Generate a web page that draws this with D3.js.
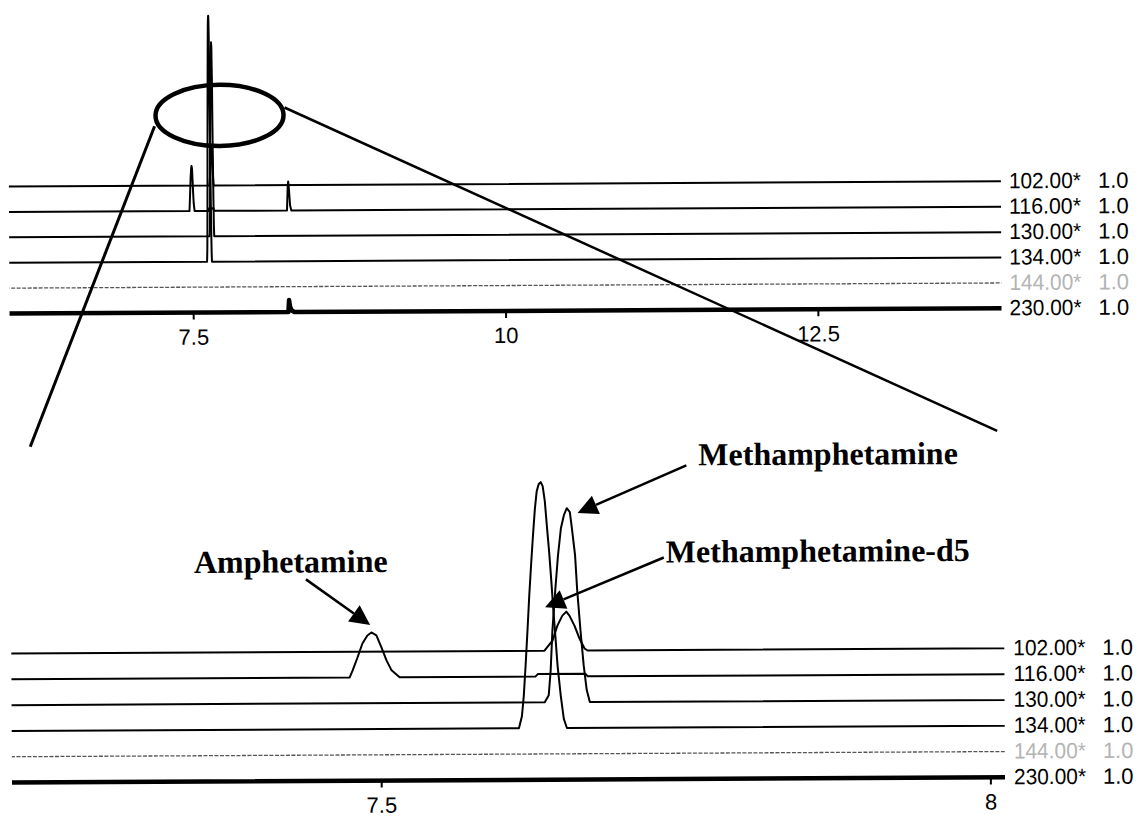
<!DOCTYPE html>
<html>
<head>
<meta charset="utf-8">
<script src="https://cdn.jsdelivr.net/npm/d3@7"></script>
<style>
  body { margin: 0; background: #fff; }
  svg { display: block; }
</style>
</head>
<body>
<svg id="chart" width="1139" height="817"></svg>
<script>
// ion chromatograms: [retention time (min), abundance]
var ions = ['102.00', '116.00', '130.00', '134.00', '144.00', '230.00'];
var factor = '1.0';
var topTicks = [7.5, 10, 12.5];
var bottomTicks = [7.5, 8];
var topTimes = [6.03, 13.97];
var bottomTimes = [7.197, 8.012];

var trace102 = [[6, 0], [7.6346, 0], [7.6412, 4], [7.6453, 10], [7.6494, 14], [7.6527, 15.6],
    [7.6552, 14], [7.6593, 10], [7.6634, 4.8], [7.6675, 0.8], [7.67, 0], [14, 0]];
var trace116 = [[6, 0], [7.4745, 0], [7.477, 2.8], [7.4811, 8], [7.4852, 13.6], [7.4893, 16.8],
    [7.4926, 18], [7.4967, 16.8], [7.5008, 12], [7.5049, 6.8], [7.509, 2.8], [7.5156, 0],
    [7.627, 0], [7.629, 1], [7.668, 1], [7.67, 0],
    [8.255, 0], [8.262, 10], [8.266, 11.6], [8.272, 8], [8.28, 2], [8.29, 0], [14, 0]];
var trace130 = [[6, 0], [7.6346, 0], [7.6379, 2.8], [7.6396, 12.8], [7.6412, 28.8], [7.6437, 44.8],
    [7.6461, 58.8], [7.6486, 69.6], [7.6511, 74.8], [7.6535, 77.6], [7.656, 76], [7.6576, 69.6],
    [7.6601, 58.8], [7.6617, 44.8], [7.6642, 28.8], [7.6667, 14.8], [7.6691, 4.8], [7.6716, 0], [14, 0]];
var trace134 = [[6, 0], [7.6133, 0], [7.6158, 4.8], [7.6174, 12.8], [7.619, 24.8], [7.6207, 38.8],
    [7.6223, 52.8], [7.624, 65.6], [7.6256, 76.8], [7.6273, 87.6], [7.6289, 94.8], [7.6305, 97.6],
    [7.6322, 98.4], [7.6338, 96.8], [7.6355, 90.8], [7.6371, 80.8], [7.6388, 70.8], [7.6404, 59.6],
    [7.642, 47.6], [7.6437, 36], [7.6453, 24.8], [7.6478, 12.8], [7.6502, 3.6], [7.6527, 0], [14, 0]];
var trace144 = [[6, 0], [14, 0]];
var trace230 = [[6, 0], [8.262, 0], [8.268, 4.8], [8.276, 2], [8.29, 0.6], [8.31, 0], [14, 0]];

var traces = [trace102, trace116, trace130, trace134, trace144, trace230];

var svg = d3.select('#chart');
// the scanned original is tilted a little
var root = svg.append('g').attr('transform', 'rotate(-0.3 570 400)');

var abundance = d3.scaleLinear().domain([0, 100]).range([0, 250]);

function drawPanel(name, times, xRange, yRange, ticks, labelX) {
    var x = d3.scaleLinear().domain(times).range(xRange);
    var base = d3.scalePoint().domain(ions).range(yRange);
    var g = root.append('g');

    g.append('clipPath').attr('id', 'clip-' + name)
        .append('rect')
        .attr('x', xRange[0]).attr('y', 0)
        .attr('width', xRange[1] - xRange[0]).attr('height', 817);

    var plot = g.append('g').attr('clip-path', 'url(#clip-' + name + ')');

    ions.forEach(function (ion, i) {
        var line = d3.line()
            .x(function (d) { return x(d[0]); })
            .y(function (d) { return base(ion) - abundance(d[1]); });
        var path = plot.append('path')
            .datum(traces[i])
            .attr('fill', 'none')
            .attr('stroke', '#000')
            .attr('stroke-linejoin', 'round')
            .attr('stroke-width', 2)
            .attr('d', line);
        if (ion === '144.00') {
            path.attr('stroke', '#555').attr('stroke-width', 1.3).attr('stroke-dasharray', '4,1.5');
        } else if (ion === '230.00') {
            path.attr('stroke-width', 4.5);
        }

        var label = g.append('g')
            .attr('font-family', 'Liberation Sans, Arial, sans-serif')
            .attr('font-size', 22)
            .attr('fill', ion === '144.00' ? '#b4b4b4' : '#000');
        label.append('text')
            .attr('x', labelX).attr('y', base(ion) + 7)
            .attr('textLength', 72).attr('lengthAdjust', 'spacingAndGlyphs')
            .text(ion + '*');
        label.append('text')
            .attr('x', labelX + 89).attr('y', base(ion) + 7)
            .text(factor);
    });

    var axis = g.append('g')
        .attr('transform', 'translate(0,' + base('230.00') + ')')
        .call(d3.axisBottom(x)
            .tickValues(ticks)
            .tickSize(7)
            .tickSizeOuter(0)
            .tickPadding(9.5)
            .tickFormat(function (d) { return String(d); }));
    axis.select('.domain').remove();
    axis.selectAll('.tick line').attr('stroke', '#000').attr('stroke-width', 2);
    axis.selectAll('.tick text')
        .attr('fill', '#000')
        .attr('font-size', 22)
        .attr('font-family', 'Liberation Sans, Arial, sans-serif');
}

drawPanel('top', topTimes, [10, 1002], [183.6, 310.6], topTicks, 1010);
drawPanel('bottom', bottomTimes, [10, 1003], [650.6, 779.6], bottomTicks, 1012);

// zoom marker
root.append('ellipse')
    .attr('cx', 221).attr('cy', 113.6).attr('rx', 64).attr('ry', 30.6)
    .attr('fill', 'none').attr('stroke', '#000').attr('stroke-width', 4.5);
root.append('line')
    .attr('x1', 156).attr('y1', 124).attr('x2', 30).attr('y2', 444)
    .attr('stroke', '#000').attr('stroke-width', 3);
root.append('line')
    .attr('x1', 286).attr('y1', 106).attr('x2', 997).attr('y2', 433)
    .attr('stroke', '#000').attr('stroke-width', 2.5);

// compound labels
function arrow(from, tip) {
    var dx = tip[0] - from[0], dy = tip[1] - from[1];
    var len = Math.sqrt(dx * dx + dy * dy);
    var ux = dx / len, uy = dy / len;
    var bx = tip[0] - ux * 20, by = tip[1] - uy * 20;
    root.append('line')
        .attr('x1', from[0]).attr('y1', from[1]).attr('x2', bx).attr('y2', by)
        .attr('stroke', '#000').attr('stroke-width', 2.5);
    root.append('polygon')
        .attr('points', [
            [tip[0], tip[1]],
            [bx - uy * 10, by + ux * 10],
            [bx + uy * 10, by - ux * 10]
        ].map(function (p) { return p.join(','); }).join(' '))
        .attr('fill', '#000');
}

var names = root.append('g')
    .attr('font-family', 'Liberation Serif, Times New Roman, serif')
    .attr('font-weight', 'bold')
    .attr('font-size', 32);
names.append('text').attr('x', 193).attr('y', 571).text('Amphetamine');
names.append('text').attr('x', 698).attr('y', 466).text('Methamphetamine');
names.append('text').attr('x', 665).attr('y', 563).text('Methamphetamine-d5');

arrow([305, 578], [369, 624]);
arrow([686, 466], [577, 513]);
arrow([663, 558], [544, 607]);
</script>
</body>
</html>
